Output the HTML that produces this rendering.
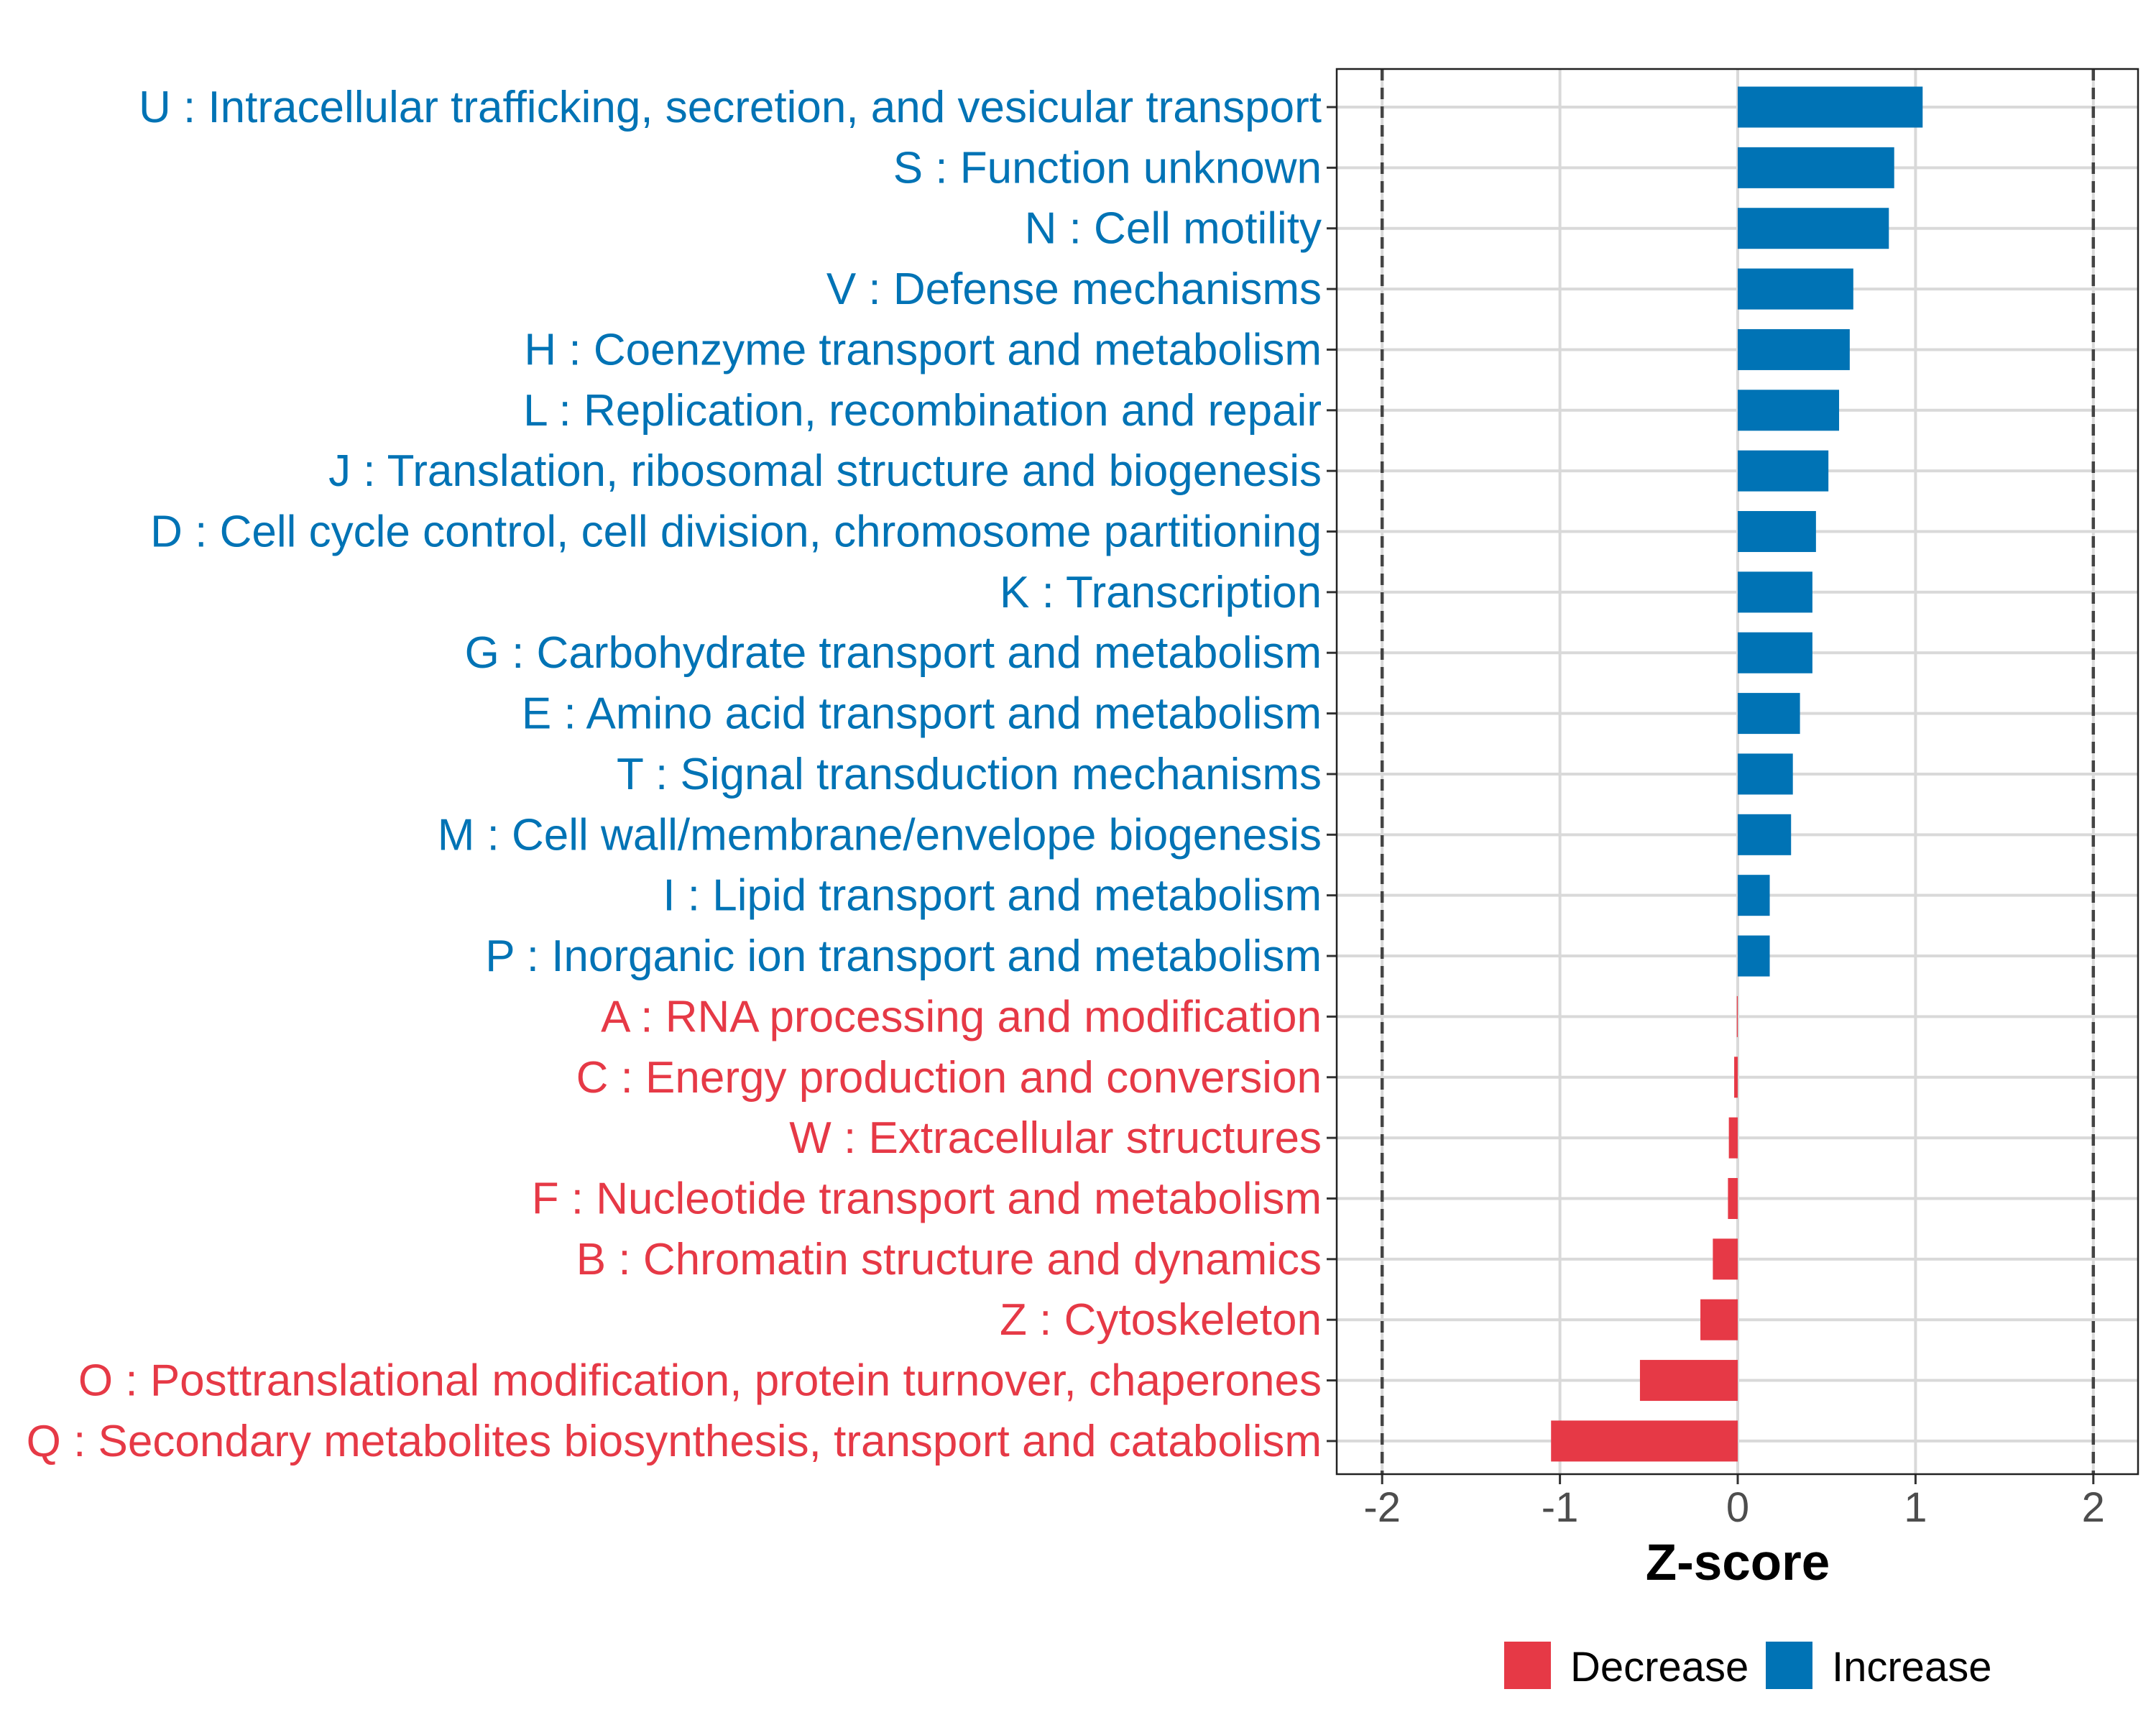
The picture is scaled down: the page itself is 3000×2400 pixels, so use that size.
<!DOCTYPE html>
<html><head><meta charset="utf-8">
<style>
html,body{margin:0;padding:0;background:#fff;}
svg{display:block;font-family:"Liberation Sans",Arial,sans-serif;}
</style></head>
<body>
<svg id="chart" width="3000" height="2400" viewBox="0 0 3000 2400" xmlns="http://www.w3.org/2000/svg">
<g id="grid"></g>
<g id="bars"></g>
<g id="ylabels"></g>
<g id="xticks"></g>
<text x="2418" y="2198" text-anchor="middle" font-size="71" font-weight="bold" fill="#000">Z-score</text>
<g>
  <rect x="2093" y="2284" width="65" height="66" fill="#E63946"/>
  <text x="2185" y="2339" font-size="58" fill="#000">Decrease</text>
  <rect x="2457" y="2284" width="65" height="66" fill="#0073B5"/>
  <text x="2549" y="2339" font-size="58" fill="#000">Increase</text>
</g>
</svg>
<script>
const categories = [
"U : Intracellular trafficking, secretion, and vesicular transport",
"S : Function unknown",
"N : Cell motility",
"V : Defense mechanisms",
"H : Coenzyme transport and metabolism",
"L : Replication, recombination and repair",
"J : Translation, ribosomal structure and biogenesis",
"D : Cell cycle control, cell division, chromosome partitioning",
"K : Transcription",
"G : Carbohydrate transport and metabolism",
"E : Amino acid transport and metabolism",
"T : Signal transduction mechanisms",
"M : Cell wall/membrane/envelope biogenesis",
"I : Lipid transport and metabolism",
"P : Inorganic ion transport and metabolism",
"A : RNA processing and modification",
"C : Energy production and conversion",
"W : Extracellular structures",
"F : Nucleotide transport and metabolism",
"B : Chromatin structure and dynamics",
"Z : Cytoskeleton",
"O : Posttranslational modification, protein turnover, chaperones",
"Q : Secondary metabolites biosynthesis, transport and catabolism"
];
const zscores = [1.04,0.88,0.85,0.65,0.63,0.57,0.51,0.44,0.42,0.42,0.35,0.31,0.30,0.18,0.18,-0.005,-0.02,-0.05,-0.055,-0.14,-0.21,-0.55,-1.05];
const xTicks = [-2,-1,0,1,2];
const xTickLabels = ["-2","-1","0","1","2"];
const thresholds = [-2,2];

const NS="http://www.w3.org/2000/svg";
const PL=1860,PR=2975,PT=96,PB=2051;
const X0=2418,UNIT=247.4;
const Y0=149,STEP=84.36,BH=57;
const BLUE="#0073B5",RED="#E63946";
function xs(v){return X0+v*UNIT;}
function ys(i){return Y0+i*STEP;}
function mk(tag,attrs,parent){const e=document.createElementNS(NS,tag);for(const k in attrs)e.setAttribute(k,attrs[k]);parent.appendChild(e);return e;}
const grid=document.getElementById('grid'),bars=document.getElementById('bars'),yl=document.getElementById('ylabels'),xt=document.getElementById('xticks');

xTicks.forEach((t,i)=>{
  const l=mk('line',{x1:xs(t),x2:xs(t),y1:PT,y2:PB,stroke:'#d9d9d9','stroke-width':4},grid);
  
  
  const tk=mk('line',{x1:xs(t),x2:xs(t),y1:PB,y2:PB+14,stroke:'#333','stroke-width':3},xt);
  
  
  const tx=mk('text',{x:xs(t),y:PB+66,'text-anchor':'middle','font-size':58,fill:'#4d4d4d'},xt);
  tx.textContent=xTickLabels[i];
  
  
});
categories.forEach((c,i)=>{
  const y=ys(i);
  const g=mk('line',{x1:PL,x2:PR,y1:y,y2:y,stroke:'#d9d9d9','stroke-width':4},grid);
  
  
});
thresholds.forEach(t=>{
  const d=mk('line',{x1:xs(t),x2:xs(t),y1:PT,y2:PB,stroke:'#444','stroke-width':4.5,'stroke-dasharray':'16,10'},grid);
  
  
});
categories.forEach((c,i)=>{
  const v=zscores[i],y=ys(i),col=v>=0?BLUE:RED;
  const x1=Math.min(xs(0),xs(v)),w=Math.abs(xs(v)-xs(0));
  const r=mk('rect',{x:x1,y:y-BH/2,width:Math.max(w,1),height:BH,fill:col},bars);
  
  
  const tk=mk('line',{x1:PL-14,x2:PL,y1:y,y2:y,stroke:'#333','stroke-width':3},yl);
  
  
  const t=mk('text',{x:1839,y:y+21,'text-anchor':'end','font-size':62,fill:col},yl);
  t.textContent=c;
  
  
});
const border=mk('rect',{x:PL,y:PT,width:PR-PL,height:PB-PT,fill:'none',stroke:'#222','stroke-width':2.5},document.getElementById('chart'));


</script>
</body></html>
